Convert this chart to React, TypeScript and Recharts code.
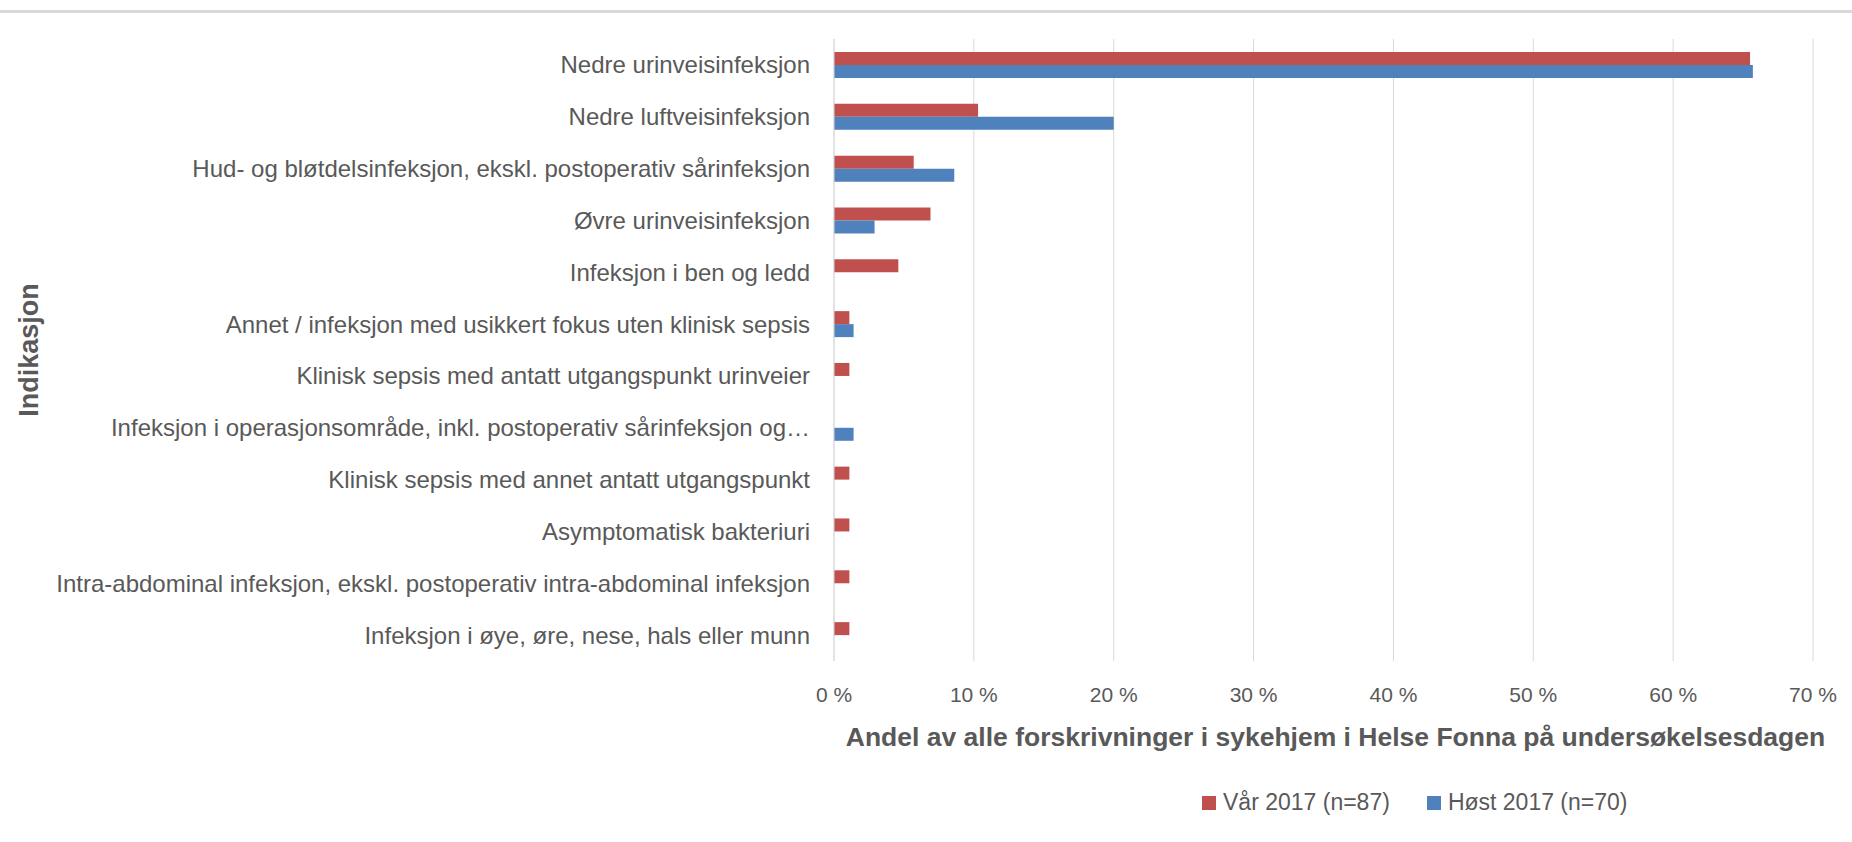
import { Bar, BarChart, CartesianGrid, Label, Legend, XAxis, YAxis } from "recharts";

const categories = [
  "Nedre urinveisinfeksjon",
  "Nedre luftveisinfeksjon",
  "Hud- og bløtdelsinfeksjon, ekskl. postoperativ sårinfeksjon",
  "Øvre urinveisinfeksjon",
  "Infeksjon i ben og ledd",
  "Annet / infeksjon med usikkert fokus uten klinisk sepsis",
  "Klinisk sepsis med antatt utgangspunkt urinveier",
  "Infeksjon i operasjonsområde, inkl. postoperativ sårinfeksjon og…",
  "Klinisk sepsis med annet antatt utgangspunkt",
  "Asymptomatisk bakteriuri",
  "Intra-abdominal infeksjon, ekskl. postoperativ intra-abdominal infeksjon",
  "Infeksjon i øye, øre, nese, hals eller munn",
];

// andel i prosent
const var2017 = [65.5, 10.3, 5.7, 6.9, 4.6, 1.1, 1.1, 0, 1.1, 1.1, 1.1, 1.1];
const host2017 = [65.7, 20.0, 8.6, 2.9, 0, 1.4, 0, 1.4, 0, 0, 0, 0];

const xTicks = [0, 10, 20, 30, 40, 50, 60, 70];

const data = categories.map((name, i) => ({
  name,
  var: var2017[i],
  host: host2017[i],
}));

const font = "'Liberation Sans', Arial, sans-serif";
const textColor = "#595959";
const seriesOrder = ["var", "host"];

const renderLegend = (props: any) => {
  const payload = [...props.payload].sort(
    (a: any, b: any) => seriesOrder.indexOf(a.dataKey) - seriesOrder.indexOf(b.dataKey)
  );
  return (
    <div style={{ display: "flex", alignItems: "center", fontFamily: font, fontSize: 23, lineHeight: "23px", color: textColor }}>
      {payload.map((entry: any, i: number) => (
        <div key={i} style={{ display: "flex", alignItems: "center", marginRight: i === 0 ? 37 : 0 }}>
          <span style={{ display: "inline-block", width: 14, height: 14, background: entry.color, marginRight: 7 }} />
          <span style={{ whiteSpace: "nowrap" }}>{entry.value}</span>
        </div>
      ))}
    </div>
  );
};

export default function App() {
  return (
    <div style={{ position: "absolute", left: 0, top: 0, width: 1852, height: 842, background: "#fff" }}>
      <div style={{ position: "absolute", left: 0, top: 10, width: 1852, height: 3, background: "#d9d9d9" }} />
      <BarChart
        width={1852}
        height={842}
        data={data}
        layout="vertical"
        margin={{ top: 39, right: 39, left: 0, bottom: 151 }}
        barCategoryGap="25%"
        barGap={0}
      >
        <CartesianGrid horizontal={false} stroke="#d9d9d9" />
        <XAxis
          type="number"
          domain={[0, 70]}
          ticks={xTicks}
          tickFormatter={(v) => `${v} %`}
          axisLine={false}
          tickLine={false}
          tickMargin={20}
          tick={{ fill: textColor, fontSize: 21, fontFamily: font }}
        >
          <Label
            value="Andel av alle forskrivninger i sykehjem i Helse Fonna på undersøkelsesdagen"
            position="insideTop"
            offset={66}
            dx={12}
            style={{ fill: textColor, fontSize: 26.5, fontWeight: "bold", fontFamily: font }}
          />
        </XAxis>
        <YAxis
          type="category"
          dataKey="name"
          width={834}
          interval={0}
          tickLine={false}
          axisLine={{ stroke: "#d9d9d9" }}
          tickMargin={18}
          tick={{ fill: textColor, fontSize: 24, fontFamily: font }}
        >
          <Label
            value="Indikasjon"
            angle={-90}
            position="insideLeft"
            offset={28}
            style={{ textAnchor: "middle", fill: textColor, fontSize: 27, fontWeight: "bold", fontFamily: font }}
          />
        </YAxis>
        <Legend
          layout="horizontal"
          verticalAlign="middle"
          align="center"
          itemSorter={(item: any) => seriesOrder.indexOf(item.dataKey)}
          content={renderLegend}
          wrapperStyle={{ left: 1202, top: 791, width: 500 }}
        />
        <Bar dataKey="var" name="Vår 2017 (n=87)" fill="#C0504D" isAnimationActive={false} />
        <Bar dataKey="host" name="Høst 2017 (n=70)" fill="#4F81BD" isAnimationActive={false} />
      </BarChart>
    </div>
  );
}
